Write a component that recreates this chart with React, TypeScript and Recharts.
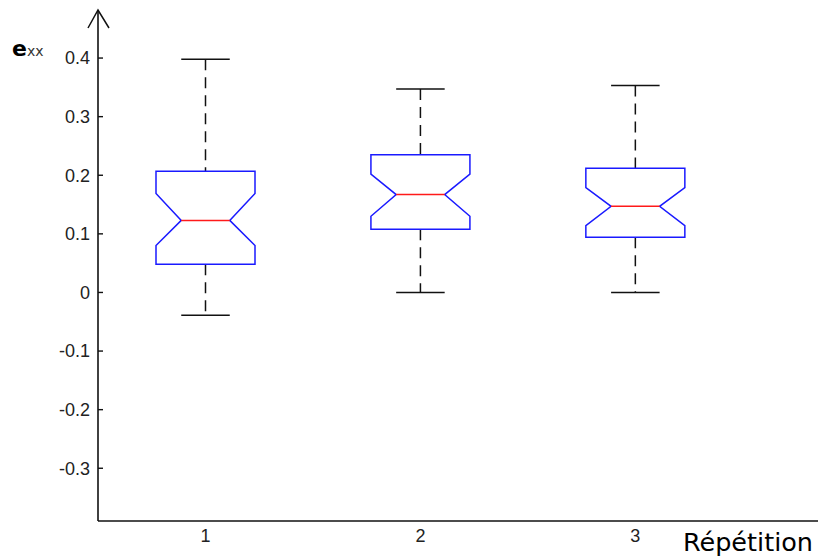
import React from 'react';
import { ComposedChart, Bar, XAxis, YAxis, ReferenceDot } from 'recharts';

// one entry per repetition
const categories = [1, 2, 3];
const whiskerHigh = [0.398, 0.347, 0.353];
const q3 = [0.207, 0.235, 0.212];
const notchHigh = [0.169, 0.202, 0.179];
const median = [0.123, 0.167, 0.147];
const notchLow = [0.08, 0.13, 0.114];
const q1 = [0.048, 0.108, 0.094];
const whiskerLow = [-0.039, 0.0, 0.0];

const yTicks = [-0.3, -0.2, -0.1, 0, 0.1, 0.2, 0.3, 0.4];
const xTicks = [1, 2, 3];

const data = categories.map((c, i) => ({
  rep: c,
  hi: whiskerHigh[i],
  q3: q3[i],
  nHi: notchHigh[i],
  med: median[i],
  nLo: notchLow[i],
  q1: q1[i],
  lo: whiskerLow[i],
}));

const tickFont = { fontFamily: '"Liberation Sans", Arial, sans-serif', fontSize: 18, fill: '#222' };

function BoxShape(props: any) {
  const { x, y, width, height, payload } = props;
  const top = Math.min(y, y + height);
  const bottom = Math.max(y, y + height);
  const span = payload.hi - payload.lo;
  const py = (v: number) => top + ((bottom - top) * (payload.hi - v)) / span;
  const cx = x + width / 2;
  const hw = width / 2;
  const nw = hw * 0.49;
  const pts = [
    [cx - hw, py(payload.q3)],
    [cx + hw, py(payload.q3)],
    [cx + hw, py(payload.nHi)],
    [cx + nw, py(payload.med)],
    [cx + hw, py(payload.nLo)],
    [cx + hw, py(payload.q1)],
    [cx - hw, py(payload.q1)],
    [cx - hw, py(payload.nLo)],
    [cx - nw, py(payload.med)],
    [cx - hw, py(payload.nHi)],
  ]
    .map((p) => p.join(','))
    .join(' ');
  return (
    <g>
      <line x1={cx} x2={cx} y1={py(payload.hi)} y2={py(payload.q3)} stroke="#111" strokeWidth={1.5} strokeDasharray="11 7" />
      <line x1={cx} x2={cx} y1={py(payload.q1)} y2={py(payload.lo)} stroke="#111" strokeWidth={1.5} strokeDasharray="11 7" />
      <line x1={cx - nw} x2={cx + nw} y1={py(payload.hi)} y2={py(payload.hi)} stroke="#111" strokeWidth={1.5} />
      <line x1={cx - nw} x2={cx + nw} y1={py(payload.lo)} y2={py(payload.lo)} stroke="#111" strokeWidth={1.5} />
      <polygon points={pts} fill="none" stroke="#1a1aff" strokeWidth={1.5} />
      <line x1={cx - nw} x2={cx + nw} y1={py(payload.med)} y2={py(payload.med)} stroke="#ff1a1a" strokeWidth={1.5} />
    </g>
  );
}

function YTick(props: any) {
  const { x, y, payload } = props;
  return (
    <g>
      <line x1={x + 8} x2={x + 13} y1={y} y2={y} stroke="#111" strokeWidth={1.4} />
      <text x={x} y={y} dy="0.355em" textAnchor="end" {...tickFont}>
        {String(Number(payload.value.toFixed(1)))}
      </text>
    </g>
  );
}

function AxisArrow(props: any) {
  const { cx, cy } = props;
  return (
    <g>
      <polyline points={`${cx - 10},${cy + 18} ${cx},${cy} ${cx + 11},${cy + 18}`} fill="none" stroke="#111" strokeWidth={1.5} />
      <text x={cx - 86} y={cy + 46} fill="#000" fontFamily='"DejaVu Sans", sans-serif'>
        <tspan fontSize={22} fontWeight="bold">e</tspan>
        <tspan fontSize={14} fill="#333">xx</tspan>
      </text>
    </g>
  );
}

function XLabel(props: any) {
  const { viewBox } = props;
  return (
    <text
      x={viewBox.x + viewBox.width - 5}
      y={viewBox.y + 30}
      textAnchor="end"
      fontFamily='"DejaVu Sans", sans-serif'
      fontSize={25.5}
      fill="#000"
    >
      Répétition
    </text>
  );
}

export default function App() {
  return (
    <div style={{ position: 'absolute', left: 0, top: 0, background: '#fff' }}>
      <ComposedChart width={818} height={558} data={data} margin={{ top: 10, right: 0, bottom: 0, left: 0 }}>
        <XAxis
          dataKey="rep"
          type="number"
          domain={[0.5, 3.85]}
          ticks={xTicks}
          allowDataOverflow
          height={37}
          tickSize={0}
          tickMargin={8}
          tickLine={false}
          axisLine={{ stroke: '#111', strokeWidth: 1.6 }}
          tick={tickFont}
          label={<XLabel />}
        />
        <YAxis
          type="number"
          domain={[-0.39, 0.482]}
          ticks={yTicks}
          interval={0}
          allowDataOverflow
          width={98}
          tickSize={0}
          tickMargin={8}
          tickLine={false}
          axisLine={{ stroke: '#111', strokeWidth: 1.6 }}
          tick={<YTick />}
        />
        <Bar
          dataKey={(d: any) => [d.lo, d.hi]}
          barSize={99}
          shape={<BoxShape />}
          isAnimationActive={false}
        />
        <ReferenceDot x={0.5} y={0.482} ifOverflow="visible" shape={<AxisArrow />} />
      </ComposedChart>
    </div>
  );
}
